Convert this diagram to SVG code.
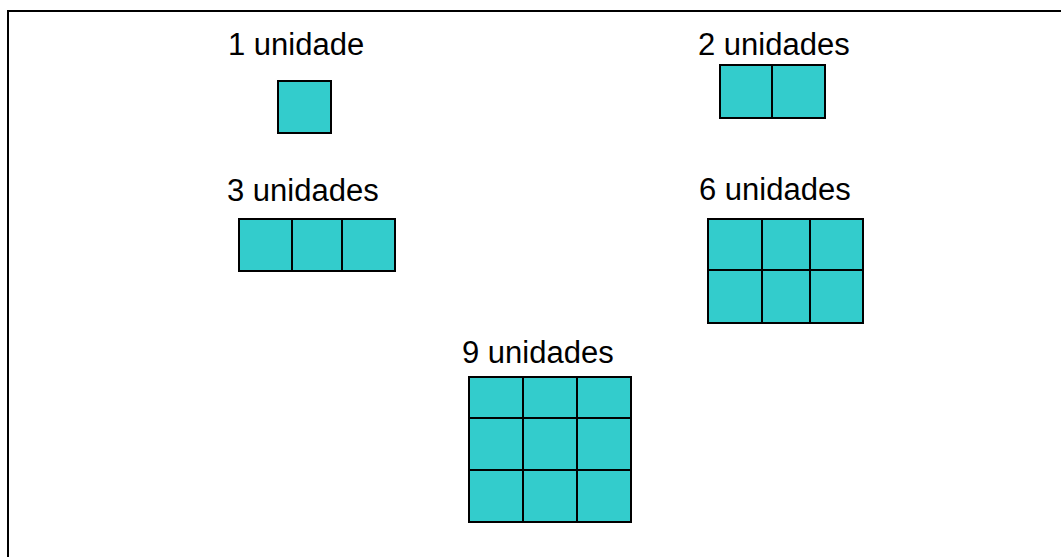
<svg xmlns="http://www.w3.org/2000/svg" width="1061" height="557" viewBox="0 0 1061 557">
<style>
.t{font-family:"Liberation Sans",Arial,sans-serif;font-size:31px;fill:#000}
.c{fill:#33CCCC;stroke:#000;stroke-width:2}
.b{stroke:#000;stroke-width:2;fill:none}
</style>
<rect width="1061" height="557" fill="#fff"/>
<path class="b" d="M8,557 V11 H1061"/>
<g id="n1">
<text class="t" x="228" y="55">1 unidade</text>
<rect class="c" x="278" y="81" width="53" height="52"/>
</g>
<g id="n2">
<text class="t" x="698" y="55">2 unidades</text>
<rect class="c" x="720" y="65" width="52" height="53"/>
<rect class="c" x="772" y="65" width="53" height="53"/>
</g>
<g id="n3">
<text class="t" x="227" y="201">3 unidades</text>
<rect class="c" x="239" y="219" width="53" height="52"/>
<rect class="c" x="292" y="219" width="50" height="52"/>
<rect class="c" x="342" y="219" width="53" height="52"/>
</g>
<g id="n6">
<text class="t" x="699" y="200">6 unidades</text>
<rect class="c" x="708" y="219" width="54" height="51"/>
<rect class="c" x="762" y="219" width="48" height="51"/>
<rect class="c" x="810" y="219" width="53" height="51"/>
<rect class="c" x="708" y="270" width="54" height="53"/>
<rect class="c" x="762" y="270" width="48" height="53"/>
<rect class="c" x="810" y="270" width="53" height="53"/>
</g>
<g id="n9">
<text class="t" x="462" y="363">9 unidades</text>
<rect class="c" x="469" y="377" width="54" height="41"/>
<rect class="c" x="523" y="377" width="54" height="41"/>
<rect class="c" x="577" y="377" width="54" height="41"/>
<rect class="c" x="469" y="418" width="54" height="52"/>
<rect class="c" x="523" y="418" width="54" height="52"/>
<rect class="c" x="577" y="418" width="54" height="52"/>
<rect class="c" x="469" y="470" width="54" height="52"/>
<rect class="c" x="523" y="470" width="54" height="52"/>
<rect class="c" x="577" y="470" width="54" height="52"/>
</g>
</svg>
